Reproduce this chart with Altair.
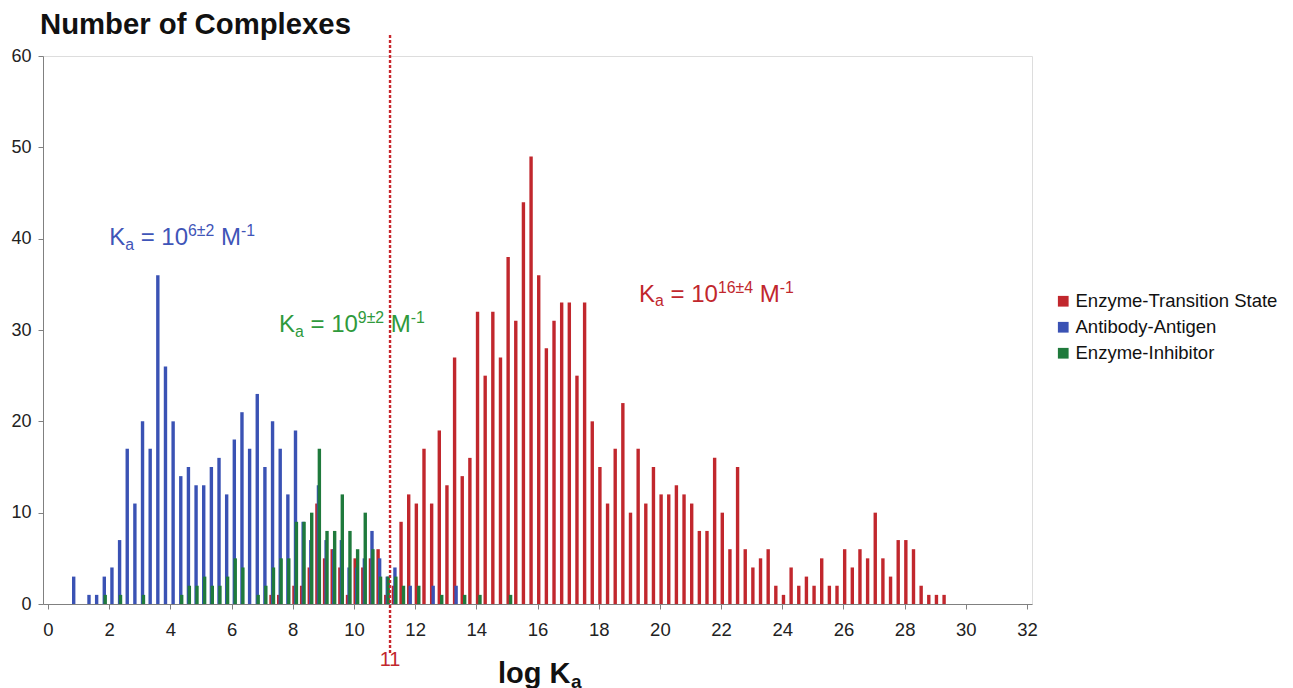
import altair as alt
import pandas as pd

FONT = "Liberation Sans"

# ---------------- data ----------------
# 0.25-wide bins of log Ka, bin k centred at 0.875 + 0.25*k
n_bins = 115
bin_centre = [round(0.875 + 0.25 * k, 3) for k in range(n_bins)]

antibody_antigen = [
    3, 0, 1, 1, 3, 4, 7, 17, 11, 20,
    17, 36, 26, 20, 14, 15, 13, 13, 15, 16,
    12, 18, 21, 17, 23, 15, 20, 17, 12, 19,
    9, 7, 13, 7, 6, 7, 4, 4, 5, 8,
    5, 3, 4, 0, 2, 0, 0, 2, 0, 0,
    2,
]
enzyme_inhibitor = [
    0, 0, 0, 0, 1, 0, 1, 0, 0, 1,
    0, 0, 0, 0, 1, 2, 2, 3, 2, 2,
    3, 5, 4, 0, 1, 2, 4, 5, 5, 9,
    9, 10, 17, 8, 8, 12, 8, 6, 10, 6,
    3, 3, 3, 2, 0, 2, 0, 0, 1, 0,
    0, 1, 0, 1, 0, 0, 0, 1,
]
enzyme_ts = [0] * 26 + [
    1, 1, 0, 2, 2, 4, 11, 5, 6, 4,
    1, 5, 4, 5, 6, 1, 2, 9, 12, 11,
    17, 11, 19, 13, 27, 14, 16, 32, 25, 32,
    27, 38, 31, 44, 49, 36, 28, 31, 33, 33,
    25, 33, 20, 15, 11, 17, 22, 10, 17, 11,
    15, 12, 12, 13, 12, 11, 8, 8, 16, 10,
    6, 15, 6, 4, 5, 6, 2, 1, 4, 2,
    3, 2, 5, 2, 2, 6, 4, 6, 5, 10,
    5, 3, 7, 7, 6, 2, 1, 1, 1,
]

series_names = ["Enzyme-Transition State", "Antibody-Antigen", "Enzyme-Inhibitor"]
series_colors = ["#c1272d", "#3a52b4", "#1f7a3c"]
series_counts = [enzyme_ts, antibody_antigen, enzyme_inhibitor]
series_shift = [-0.085, -0.035, -0.005]   # clustered-column offsets within a bin

threshold_log_ka = [11.18]
threshold_label = ["11"]

rows = []
for i, (name, counts, shift) in enumerate(zip(series_names, series_counts, series_shift)):
    for k, c in enumerate(counts):
        if c > 0:
            rows.append({"pos": bin_centre[k] + shift, "count": c, "series": name, "o": i})
bars_df = pd.DataFrame(rows)

W, H = 989, 548
X_SCALE = alt.Scale(domain=[0, 32], nice=False, zero=False)
Y_SCALE = alt.Scale(domain=[0, 60], nice=False)

bars = alt.Chart(bars_df).mark_bar(size=3.4, opacity=1).encode(
    x=alt.X("pos:Q", scale=X_SCALE,
            axis=alt.Axis(values=list(range(0, 33, 2)), title=None, grid=False,
                          tickSize=5, labelPadding=11, labelFontSize=18.5,
                          labelColor="#222", labelFont=FONT,
                          domainColor="#808080", tickColor="#808080")),
    y=alt.Y("count:Q", scale=Y_SCALE, stack=None,
            axis=alt.Axis(values=list(range(0, 61, 10)), title=None, grid=False,
                          tickSize=5, labelPadding=7, labelFontSize=18,
                          labelColor="#222", labelFont=FONT,
                          domainColor="#808080", tickColor="#808080")),
    color=alt.Color("series:N",
                    scale=alt.Scale(domain=series_names, range=series_colors),
                    legend=alt.Legend(title=None, orient="none", legendX=1011, legendY=236,
                                      symbolType="square", symbolSize=115,
                                      symbolStrokeWidth=0, labelFontSize=18.5,
                                      labelFont=FONT, labelColor="#111", labelLimit=400,
                                      rowPadding=7, labelOffset=3)),
    order=alt.Order("o:Q"),
)

thr_df = pd.DataFrame({"pos": threshold_log_ka, "label": threshold_label})
rule = alt.Chart(thr_df).mark_rule(color="#c8262c", strokeDash=[3, 2], strokeWidth=2.4).encode(
    x=alt.X("pos:Q", scale=X_SCALE),
    y=alt.value(-21), y2=alt.value(H + 50),
)
rule_label = alt.Chart(thr_df).mark_text(color="#c1272d", fontSize=20, font=FONT,
                                         baseline="middle", align="center").encode(
    x=alt.X("pos:Q", scale=X_SCALE), y=alt.value(H + 56), text="label:N",
)

# --------- rich-text annotations (sub/superscripts) ---------
W_REG = {'K': 0.667, 'a': 0.556, ' ': 0.278, '=': 0.584, '1': 0.556, '0': 0.556,
         '6': 0.556, '9': 0.556, '2': 0.556, '4': 0.556, '±': 0.549, 'M': 0.833,
         '-': 0.333}


def width(s):
    return sum(W_REG.get(ch, 0.556) for ch in s)


def rich(anchor_x, anchor_y, parts, color, big):
    small = big * 0.66
    layers = []
    dx = 0.0
    src = pd.DataFrame({"pos": [anchor_x], "count": [anchor_y]})
    for text, kind in parts:
        fs = big if kind == "n" else small
        lead = len(text) - len(text.lstrip(" "))
        dx += width(" " * lead) * fs
        t = text.strip(" ")
        dy = 0 if kind == "n" else (big * 0.2 if kind == "sub" else -big * 0.36)
        layers.append(
            alt.Chart(src).mark_text(text=t, align="left", baseline="alphabetic",
                                     dx=dx, dy=dy, fontSize=fs, color=color, font=FONT)
            .encode(x=alt.X("pos:Q", scale=X_SCALE), y=alt.Y("count:Q", scale=Y_SCALE))
        )
        dx += width(t) * fs
    return layers


ann_x = [2.0, 7.55, 19.32]
ann_y = [39.3, 29.8, 33.1]
ann_exp = ["6±2", "9±2", "16±4"]
ann_color = ["#3f55b8", "#2f9a3c", "#c1272d"]

ann_layers = []
for ax, ay, ex, col in zip(ann_x, ann_y, ann_exp, ann_color):
    ann_layers += rich(ax, ay, [("K", "n"), ("a", "sub"), (" = 10", "n"),
                                (ex, "sup"), (" M", "n"), ("-1", "sup")], col, 24)

# title and x-axis title as text
title = alt.Chart(pd.DataFrame({"t": ["Number of Complexes"]})).mark_text(
    align="left", baseline="alphabetic", fontSize=29.3, fontWeight="bold", font=FONT, color="#111"
).encode(x=alt.value(-3), y=alt.value(-22), text="t:N")

xt1 = alt.Chart(pd.DataFrame({"t": ["log K"]})).mark_text(
    align="left", baseline="alphabetic", fontSize=29, fontWeight="bold", font=FONT, color="#111"
).encode(x=alt.value(455), y=alt.value(H + 79), text="t:N")
xt2 = alt.Chart(pd.DataFrame({"t": ["a"]})).mark_text(
    align="left", baseline="alphabetic", fontSize=19, fontWeight="bold", font=FONT, color="#111"
).encode(x=alt.value(455 + 73), y=alt.value(H + 84), text="t:N")

chart = alt.layer(bars, rule, rule_label, *ann_layers, title, xt1, xt2).properties(
    width=W, height=H,
    autosize=alt.AutoSizeParams(type="none"),
    padding={"left": 35, "top": 48, "right": 252, "bottom": 84},
).configure_view(stroke="#808080", strokeWidth=1).configure(background="white")

chart.save("out.html", embed_options={"renderer": "svg", "actions": False})
